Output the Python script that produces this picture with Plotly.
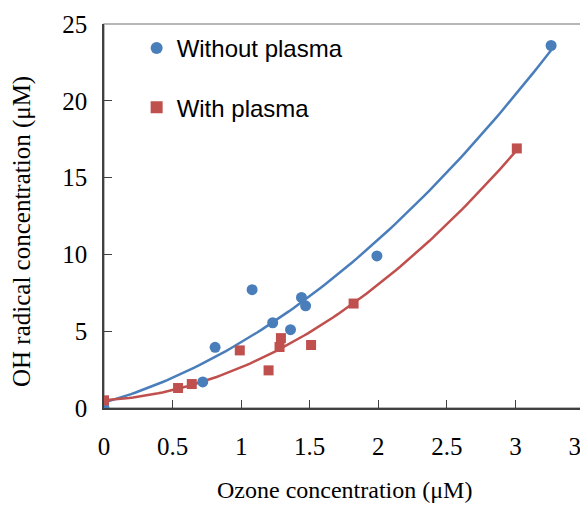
import numpy as np
import plotly.graph_objects as go

# Data
x_without = [0.0, 0.72, 0.81, 1.08, 1.23, 1.36, 1.44, 1.47, 1.99, 3.26]
y_without = [0.0, 1.7, 3.95, 7.7, 5.55, 5.1, 7.2, 6.65, 9.9, 23.6]
x_with = [0.0, 0.54, 0.64, 0.99, 1.20, 1.28, 1.29, 1.51, 1.82, 3.01]
y_with = [0.5, 1.3, 1.56, 3.75, 2.45, 3.97, 4.55, 4.1, 6.8, 16.9]
x_ticks = [0, 0.5, 1, 1.5, 2, 2.5, 3, 3.5]
y_ticks = [0, 5, 10, 15, 20, 25]

BLUE = "#4A7EBB"
RED = "#C0504D"

def trend(xs, ys, fix_intercept=False):
    xs = np.asarray(xs, float)
    ys = np.asarray(ys, float)
    if fix_intercept:
        c0 = ys[0]
        A = np.vstack([xs ** 2, xs]).T
        (a, b), *_ = np.linalg.lstsq(A, ys - c0, rcond=None)
        c = [a, b, c0]
    else:
        c = np.polyfit(xs, ys, 2)
    xx = np.linspace(0, xs.max(), 100)
    return xx, np.polyval(c, xx)

fig = go.Figure()
bx, by = trend(x_without, y_without)
rx, ry = trend(x_with, y_with, fix_intercept=True)
fig.add_trace(go.Scatter(x=bx, y=by, mode="lines", line=dict(color=BLUE, width=2.5),
                         showlegend=False, hoverinfo="skip"))
fig.add_trace(go.Scatter(x=rx, y=ry, mode="lines", line=dict(color=RED, width=2.5),
                         showlegend=False, hoverinfo="skip"))
fig.add_trace(go.Scatter(x=x_without, y=y_without, mode="markers", name="Without plasma",
                         legendgroup="a",
                         marker=dict(symbol="circle", size=11, color=BLUE)))
fig.add_trace(go.Scatter(x=x_with, y=y_with, mode="markers", name="With plasma",
                         legendgroup="b",
                         marker=dict(symbol="square", size=10, color=RED)))

serif = "Liberation Serif, Times New Roman, serif"
# page body has an 8px margin, so the figure is sized/placed to compensate
fig.update_layout(
    width=580, height=498,
    margin=dict(l=96, r=4, t=16, b=98),
    paper_bgcolor="white", plot_bgcolor="white",
    showlegend=True,
    legend=dict(x=0.068, y=0.995, xanchor="left", yanchor="top",
                font=dict(family="Liberation Sans, Arial, sans-serif", size=24, color="black"),
                tracegroupgap=25, bgcolor="rgba(0,0,0,0)", itemsizing="constant"),
    xaxis=dict(range=[0, 3.5], tickvals=x_ticks, ticktext=["0", "0.5", "1", "1.5", "2", "2.5", "3", "3.5"],
               ticks="inside", ticklen=8, tickcolor="#404040", showgrid=False, zeroline=False,
               showline=True, linecolor="#404040", linewidth=1.5, mirror=False,
               tickfont=dict(family=serif, size=25, color="black"),
               ticklabelstandoff=15, ticklabeloverflow="allow", automargin=False),
    yaxis=dict(range=[0, 25], tickvals=y_ticks,
               ticks="inside", ticklen=8, tickcolor="#404040", showgrid=False, zeroline=False,
               showline=True, linecolor="#404040", linewidth=1.5,
               tickfont=dict(family=serif, size=25, color="black"),
               ticklabelstandoff=10, ticklabeloverflow="allow", automargin=False),
    shapes=[dict(type="rect", xref="paper", yref="paper", x0=0, y0=0, x1=1, y1=1,
                 line=dict(color="#A0A0A0", width=1.5), layer="below")],
    annotations=[
        dict(text="Ozone concentration (μM)", xref="paper", yref="paper", x=0.5, y=0,
             yshift=-82, xanchor="center", yanchor="middle", showarrow=False,
             font=dict(family=serif, size=24, color="black")),
        dict(text="OH radical concentration (μM)", xref="paper", yref="paper", x=0, y=0.5,
             xshift=-82, yshift=-16, textangle=-90, xanchor="center", yanchor="middle", showarrow=False,
             font=dict(family=serif, size=25, color="black")),
    ],
)
fig.write_html("out.html")
